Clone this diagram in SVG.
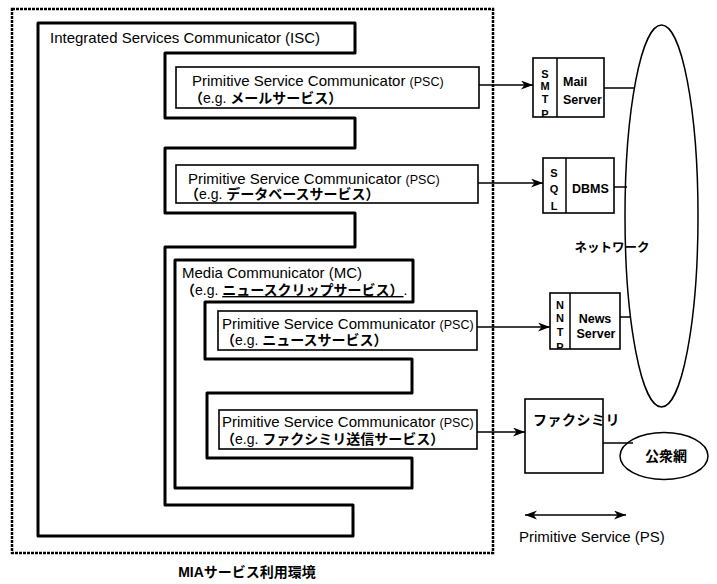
<svg xmlns="http://www.w3.org/2000/svg" width="717" height="584" viewBox="0 0 717 584">
<style>
text{font-family:"Liberation Sans","Noto Sans CJK JP",sans-serif;fill:#000}
.t15{font-size:15px}
.small{font-size:12.5px}
.jp{font-size:14px}
.k{font-weight:bold}
.b{font-weight:bold}
.lbl{font-size:12.5px;font-weight:bold}
.sl{font-size:11px;font-weight:bold}
.thick{fill:none;stroke:#000;stroke-width:3;stroke-linejoin:round}
.box{fill:#fff;stroke:#000;stroke-width:1.6}
.ln{fill:none;stroke:#000;stroke-width:1.5}
.outer{fill:none;stroke:#000;stroke-width:2.5;stroke-dasharray:3 1}
</style>
<defs>
<marker id="ah" markerUnits="userSpaceOnUse" markerWidth="14" markerHeight="10" refX="12" refY="4.5" orient="auto-start-reverse">
<path d="M0,0 L12,4.5 L0,9 L3.5,4.5 Z" fill="#000"/>
</marker>
<clipPath id="c1"><rect x="533" y="58" width="24" height="59"/></clipPath>
<clipPath id="c2"><rect x="543" y="158" width="23" height="55"/></clipPath>
<clipPath id="c3"><rect x="550" y="293" width="20" height="56"/></clipPath>
</defs>

<g id="environment">
<rect class="outer" x="12" y="9" width="481" height="544"/>
<text class="jp b" x="247" y="577" text-anchor="middle">MIAサービス利用環境</text>
</g>

<g id="isc">
<path class="thick" d="M38,23 H355 V53 H165 V118 H355 V148 H165 V213 H355 V247 H165 V505 H353 V536 H38 Z"/>
<text class="t15" x="50" y="43">Integrated Services Communicator (ISC)</text>
</g>

<g id="psc-mail">
<rect class="box" x="176" y="67" width="303" height="41"/>
<text class="t15" x="192" y="86">Primitive Service Communicator <tspan class="small">(PSC)</tspan></text>
<text class="jp" x="189" y="103"><tspan class="k">（</tspan>e.g. <tspan class="k">メールサービス）</tspan></text>
</g>

<g id="psc-db">
<rect class="box" x="176" y="165" width="302" height="38"/>
<text class="t15" x="188" y="184">Primitive Service Communicator <tspan class="small">(PSC)</tspan></text>
<text class="jp" x="185" y="199"><tspan class="k">（</tspan>e.g. <tspan class="k">データベースサービス）</tspan></text>
</g>

<g id="mc">
<path class="thick" d="M175,260 H413 V302 H205 V359 H412 V393 H207 V458 H412 V488 H175 Z"/>
<text class="t15" x="182" y="278">Media Communicator (MC)</text>
<text class="jp" x="181" y="295"><tspan class="k">（</tspan>e.g. <tspan class="k" text-decoration="underline">ニュースクリップサービス）</tspan>.</text>
</g>

<g id="psc-news">
<rect class="box" x="218" y="311" width="259" height="39"/>
<text class="t15" x="222" y="329">Primitive Service Communicator <tspan class="small">(PSC)</tspan></text>
<text class="jp" x="221" y="345"><tspan class="k">（</tspan>e.g. <tspan class="k">ニュースサービス）</tspan></text>
</g>

<g id="psc-fax">
<rect class="box" x="219" y="410" width="258" height="39"/>
<text class="t15" x="222" y="427">Primitive Service Communicator <tspan class="small">(PSC)</tspan></text>
<text class="jp" x="221" y="444"><tspan class="k">（</tspan>e.g. <tspan class="k">ファクシミリ送信サービス）</tspan></text>
</g>

<g id="mail-server">
<rect class="box" x="533" y="58" width="71" height="59"/>
<line class="ln" x1="557" y1="58" x2="557" y2="117"/>
<g clip-path="url(#c1)">
<text class="sl" x="545" y="78" text-anchor="middle">S</text>
<text class="sl" x="545" y="90" text-anchor="middle">M</text>
<text class="sl" x="545" y="103" text-anchor="middle">T</text>
<text class="sl" x="545" y="118" text-anchor="middle">P</text>
</g>
<text class="lbl" x="563" y="86">Mail</text>
<text class="lbl" x="563" y="104">Server</text>
</g>

<g id="dbms">
<rect class="box" x="543" y="158" width="71" height="55"/>
<line class="ln" x1="566" y1="158" x2="566" y2="213"/>
<g clip-path="url(#c2)">
<text class="sl" x="554" y="177" text-anchor="middle">S</text>
<text class="sl" x="554" y="193" text-anchor="middle">Q</text>
<text class="sl" x="554" y="210" text-anchor="middle">L</text>
</g>
<text class="lbl" x="572" y="193">DBMS</text>
</g>

<g id="news-server">
<rect class="box" x="550" y="293" width="70" height="56"/>
<line class="ln" x1="570" y1="293" x2="570" y2="349"/>
<g clip-path="url(#c3)">
<text class="sl" x="560" y="309" text-anchor="middle">N</text>
<text class="sl" x="560" y="322" text-anchor="middle">N</text>
<text class="sl" x="560" y="336" text-anchor="middle">T</text>
<text class="sl" x="560" y="351" text-anchor="middle">P</text>
</g>
<text class="lbl" x="595" y="323" text-anchor="middle">News</text>
<text class="lbl" x="596" y="338" text-anchor="middle">Server</text>
</g>

<g id="facsimile">
<rect class="box" x="525" y="399" width="78" height="74"/>
<text class="jp b" x="533 547.5 562 576.5 591 605.5" y="425">ファクシミリ</text>
</g>

<g id="network">
<ellipse class="ln" cx="661.5" cy="216" rx="36.5" ry="191"/>
<text class="b" x="612" y="252" font-size="12.5" text-anchor="middle">ネットワーク</text>
</g>

<g id="public-network">
<ellipse class="ln" cx="664" cy="456" rx="44" ry="23.5"/>
<text class="jp b" x="666" y="461" text-anchor="middle">公衆網</text>
</g>

<g id="connectors">
<line class="ln" x1="479" y1="85" x2="533" y2="85" marker-end="url(#ah)"/>
<line class="ln" x1="478" y1="183" x2="543" y2="183" marker-end="url(#ah)"/>
<line class="ln" x1="477" y1="327" x2="550" y2="327" marker-end="url(#ah)"/>
<line class="ln" x1="477" y1="432" x2="525" y2="432" marker-end="url(#ah)"/>
<line class="ln" x1="604" y1="88" x2="635" y2="88"/>
<line class="ln" x1="614" y1="187" x2="627" y2="187"/>
<line class="ln" x1="620" y1="317" x2="631" y2="317"/>
<line class="ln" x1="603" y1="443" x2="633" y2="443"/>
<line class="ln" x1="525" y1="515" x2="626" y2="515" marker-start="url(#ah)" marker-end="url(#ah)"/>
</g>

<g id="legend">
<text class="t15" x="519" y="542">Primitive Service (PS)</text>
</g>
</svg>
